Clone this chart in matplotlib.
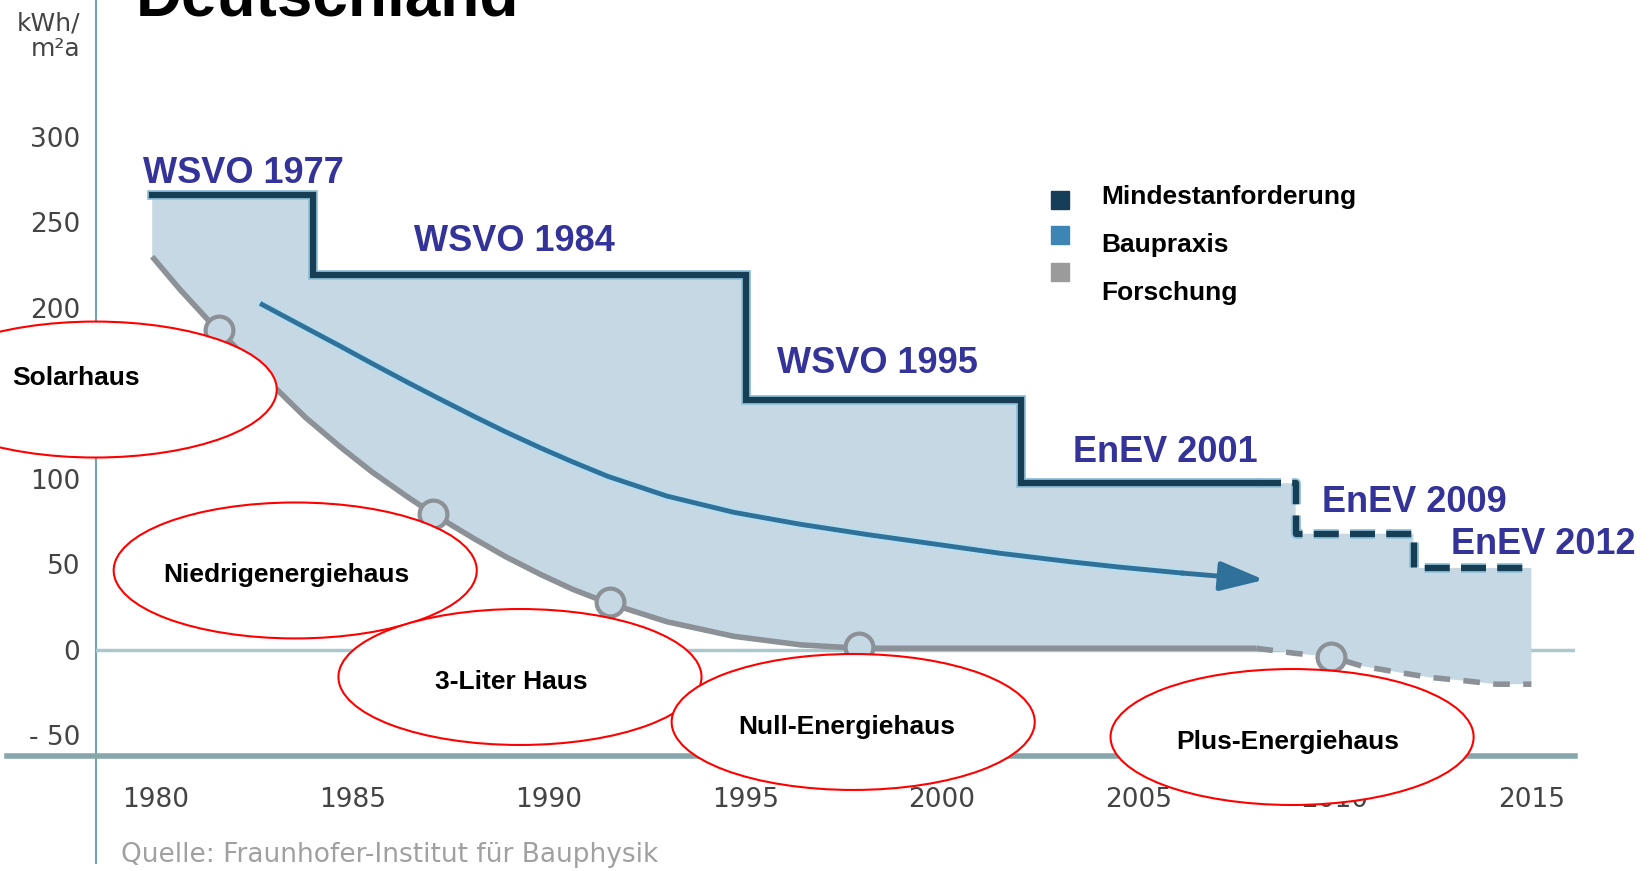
import numpy as np
import matplotlib
matplotlib.use("Agg")
import matplotlib.pyplot as plt
import matplotlib.patheffects as pe
from matplotlib.patches import Ellipse

# Mindestanforderung: Stufen der Verordnungen (kWh/m²a)
step_years = [1979.9, 1984, 1995, 2002, 2009, 2012, 2015]
step_values = [266, 219, 146, 97.5, 68, 48]
step_labels = ["WSVO 1977", "WSVO 1984", "WSVO 1995", "EnEV 2001", "EnEV 2009", "EnEV 2012"]
step_label_x = [1979.67, 1986.56, 1995.80, 2003.33, 2009.67, 2012.95]
step_label_y = [278.4, 238.6, 167.8, 115.2, 86.5, 61.4]
dashed_from = 2008

# Baupraxis (Pfeil)
practice_years = [1982.7, 1983.8, 1984.7, 1985.5, 1986.4, 1987.2, 1988.1, 1988.9, 1989.8,
                  1990.6, 1991.5, 1993.0, 1994.7, 1996.4, 1998.1, 1999.8, 2001.5, 2003.3,
                  2004.5, 2006.1, 2008.2]
practice_values = [202, 188.5, 177.5, 167.5, 156.5, 147, 136.5, 127.5, 118, 110, 101.5, 90,
                   80.5, 73.5, 67.5, 62, 56.5, 51.5, 48.5, 45, 41]

# Forschung (graue Kurve)
research_years = [1979.9, 1980.6, 1981.3, 1981.6, 1983.0, 1983.8, 1984.7, 1985.5, 1986.4,
                  1987.05, 1988.1, 1988.9, 1989.8, 1990.6, 1991.5, 1993.0, 1994.7, 1996.4,
                  1997.9, 2008.0, 2009.0, 2009.9, 2010.7, 2011.6, 2012.4, 2013.3, 2014.1,
                  2015.0]
research_values = [230, 211, 193.5, 187, 154, 136, 118.5, 104, 89.5, 79.5, 65, 54.5, 44,
                   35.5, 27.5, 16.5, 8, 3, 1, 1, -2, -4, -9.5, -13, -16, -18, -20, -20]
milestone_years = [1981.6, 1987.05, 1991.55, 1997.9, 2009.9]
milestone_values = [187, 79.5, 28, 2, -4]

# Haustypen (Ellipsen)
house_labels = ["Solarhaus", "Niedrigenergiehaus", "3-Liter Haus", "Null-Energiehaus", "Plus-Energiehaus"]
house_x = [1978.45, 1983.54, 1989.26, 1997.74, 2008.91]
house_y = [152.3, 46.5, -15.8, -42.1, -50.9]
house_text_x = [1976.34, 1983.32, 1989.03, 1997.58, 2008.80]
house_text_y = [159.1, 43.9, -18.7, -45.0, -53.8]
house_text_ha = ["left", "center", "center", "center", "center"]

legend_labels = ["Mindestanforderung", "Baupraxis", "Forschung"]
legend_colors = ["#173e58", "#3d85b5", "#9b9b9b"]

x_ticks = [1980, 1985, 1990, 1995, 2000, 2005, 2010, 2015]
y_ticks = [-50, 0, 50, 100, 150, 200, 250, 300]

BOLD = "Liberation Sans"
LABEL_BLUE = "#343399"
FILL = "#c5d8e4"
STEP_COLOR = "#163f56"
ARROW_COLOR = "#2f7199"
GRAY = "#8b9196"


def step_path(years, values):
    xs, ys = [], []
    for i, v in enumerate(values):
        xs += [years[i], years[i + 1]]
        ys += [v, v]
    return np.array(xs, dtype=float), np.array(ys, dtype=float)


def main():
    W, H = 1651, 871
    fig = plt.figure(figsize=(W / 100, H / 100), dpi=100)
    ax = fig.add_axes([96 / W, (H - 756) / H, (1575 - 96) / W, 756 / H])
    ax.set_xlim(1978.47, 2016.11)
    ax.set_ylim(-62, 380.1)
    for s in ax.spines.values():
        s.set_visible(False)

    # axis lines
    ax.axvline(ax.get_xlim()[0], ymin=-0.142, ymax=1, color="#6fa5b5", lw=1.5,
               clip_on=False, zorder=1)
    ax.axhline(ax.get_ylim()[0], xmin=-0.06, xmax=1, color="#86a6ab", lw=4,
               clip_on=False, zorder=1)
    ax.axhline(0, color="#aac8ce", lw=2.5, zorder=1)

    ax.set_xticks(x_ticks)
    ax.set_yticks(y_ticks)
    ax.set_yticklabels(["- 50" if t < 0 else str(t) for t in y_ticks])
    ax.tick_params(length=0, labelsize=19, labelcolor="#444444")
    ax.tick_params(axis="x", pad=22)
    ax.tick_params(axis="y", pad=11.5)

    # shaded band between step line and research curve
    sx, sy = step_path(step_years, step_values)
    poly_x = np.concatenate([sx, research_years[::-1]])
    poly_y = np.concatenate([sy, research_values[::-1]])
    ax.fill(poly_x, poly_y, color=FILL, lw=0, zorder=2)

    # Forschung
    ry = np.array(research_years)
    rv = np.array(research_values)
    solid = ry <= dashed_from
    dashed = ry >= dashed_from
    ax.plot(ry[solid], rv[solid], color=GRAY, lw=4, solid_capstyle="butt",
            solid_joinstyle="round", zorder=3)
    ax.plot(ry[dashed], rv[dashed], color=GRAY, lw=4, dashes=(3, 2.4), zorder=3)
    ax.plot(milestone_years, milestone_values, "o", ms=20, mfc=FILL, mec=GRAY, mew=3, zorder=4)

    # Mindestanforderung
    halo = [pe.Stroke(linewidth=7, foreground="#8fbfd8"), pe.Normal()]
    cut_y = np.interp(dashed_from, sx, sy)
    m1 = sx <= dashed_from
    m2 = sx > dashed_from
    ax.plot(np.append(sx[m1], dashed_from), np.append(sy[m1], cut_y), color=STEP_COLOR,
            lw=4.5, solid_joinstyle="miter", path_effects=halo, zorder=5)
    ax.plot(np.insert(sx[m2], 0, dashed_from), np.insert(sy[m2], 0, cut_y), color=STEP_COLOR,
            lw=4.5, dashes=(4, 1.8), path_effects=halo, zorder=5)
    for lab, x, y in zip(step_labels, step_label_x, step_label_y):
        ax.text(x, y, lab, color=LABEL_BLUE, fontsize=26, fontweight="bold", family=BOLD,
                ha="left", va="center", zorder=6)

    # Baupraxis arrow
    ax.plot(practice_years[:-1], practice_values[:-1], color=ARROW_COLOR, lw=3.5,
            solid_joinstyle="round",
            path_effects=[pe.Stroke(linewidth=6, foreground="#b5def0"), pe.Normal()], zorder=5)
    ax.annotate("", xy=(practice_years[-1], practice_values[-1]),
                xytext=(practice_years[-2], practice_values[-2]),
                arrowprops=dict(arrowstyle="-|>,head_length=1.35,head_width=0.45",
                                mutation_scale=20, color=ARROW_COLOR, lw=3.5,
                                shrinkA=0, shrinkB=0), zorder=5)

    # house type ellipses
    for lab, x, y, tx, ty, ha in zip(house_labels, house_x, house_y,
                                     house_text_x, house_text_y, house_text_ha):
        ax.add_patch(Ellipse((x, y), width=9.24, height=79.5, facecolor="white",
                             edgecolor="red", lw=1.5, zorder=10, clip_on=False))
        ax.text(tx, ty, lab, fontsize=19, fontweight="bold", family=BOLD, color="black",
                ha=ha, va="center", zorder=11, clip_on=False)

    # legend
    sq_y = [1 - 200 / H, 1 - 235 / H, 1 - 272 / H]
    tx_y = [1 - 197 / H, 1 - 245 / H, 1 - 293 / H]
    for lab, col, y1, y2 in zip(legend_labels, legend_colors, sq_y, tx_y):
        fig.add_artist(plt.Line2D([1060 / W], [y1], marker="s", ms=13, color=col,
                                  transform=fig.transFigure))
        fig.text(1101 / W, y2, lab, fontsize=19, fontweight="bold", family=BOLD,
                 ha="left", va="center")

    fig.text(136 / W, 1 - 15 / H, "Deutschland", fontsize=46, fontweight="bold",
             family=BOLD, ha="left", va="baseline")
    fig.text(80 / W, 1 - 36 / H, "kWh/\nm²a", fontsize=18, color="#444444",
             ha="right", va="center", multialignment="right", linespacing=1.1)
    fig.text(121 / W, 1 - 855 / H, "Quelle: Fraunhofer-Institut für Bauphysik",
             fontsize=19, color="#a0a0a0", ha="left", va="center")

    fig.savefig("out.png", dpi=100)


if __name__ == "__main__":
    main()
